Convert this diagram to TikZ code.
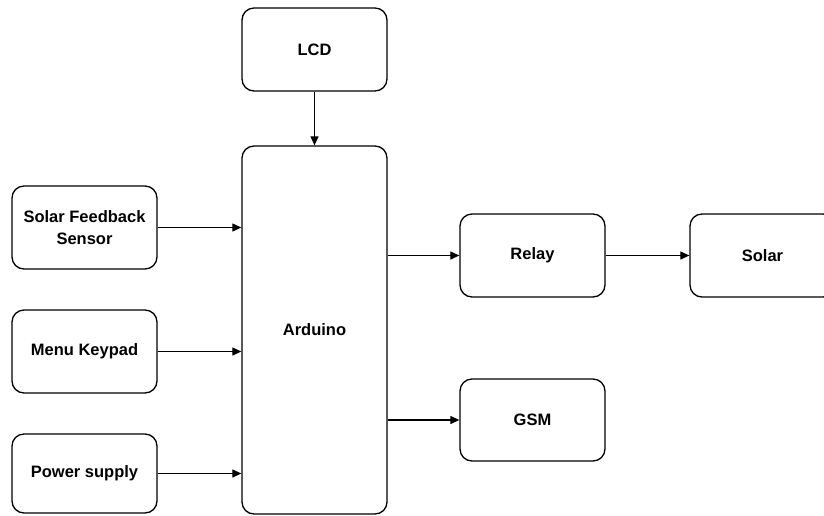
\documentclass[tikz,border=0pt]{standalone}
\usepackage{fontspec}
\setmainfont{Liberation Sans}
\usepackage{tikz}
\usetikzlibrary{arrows.meta,positioning,shapes}

\begin{document}
\begin{tikzpicture}[x=1pt,y=-1pt,
	block/.style={draw,rounded corners=12pt,line width=1.3pt,minimum width=145pt,
		align=center,font=\fontsize{16.5}{22}\selectfont\bfseries},
	link/.style={line width=1.2pt,-{Triangle[length=9pt,width=8pt]}}]
			\clip (0,0) rectangle (824,515);

			% ---------------- Centre ----------------
			\node[block,minimum height=83pt] (LCD) at (314.5,49.5) {LCD};
			\node[block,minimum height=368pt] (ARD) at (314.5,330) {Arduino};

			% ---------------- Inputs (Left) ----------------
			\node[block,minimum height=83pt] (SFS) at (84.5,227.5) {Solar Feedback\\Sensor};
			\node[block,minimum height=83pt] (KEY) at (84.5,351.5) {Menu Keypad};
			\node[block,minimum height=79pt] (PWR) at (84.5,473.5) {Power supply};

			% ---------------- Outputs (Right) ----------------
			\node[block,minimum height=83pt] (REL) at (532.5,255.5) {Relay};
			\node[block,minimum height=83pt] (SOL) at (762.5,255.5) {Solar};
			\node[block,minimum height=82pt] (GSM) at (532.5,420) {GSM};

			% Connectors
			\draw[link] (LCD) -- (ARD);
			\draw[link] (SFS.east) -- (SFS.east -| ARD.west);
			\draw[link] (KEY.east) -- (KEY.east -| ARD.west);
			\draw[link] (PWR.east) -- (PWR.east -| ARD.west);
			\draw[link] (ARD.east |- REL.west) -- (REL.west);
			\draw[link] (REL) -- (SOL);
			\draw[link] (ARD.east |- GSM.west) -- (GSM.west);
		\end{tikzpicture}
\end{document}
